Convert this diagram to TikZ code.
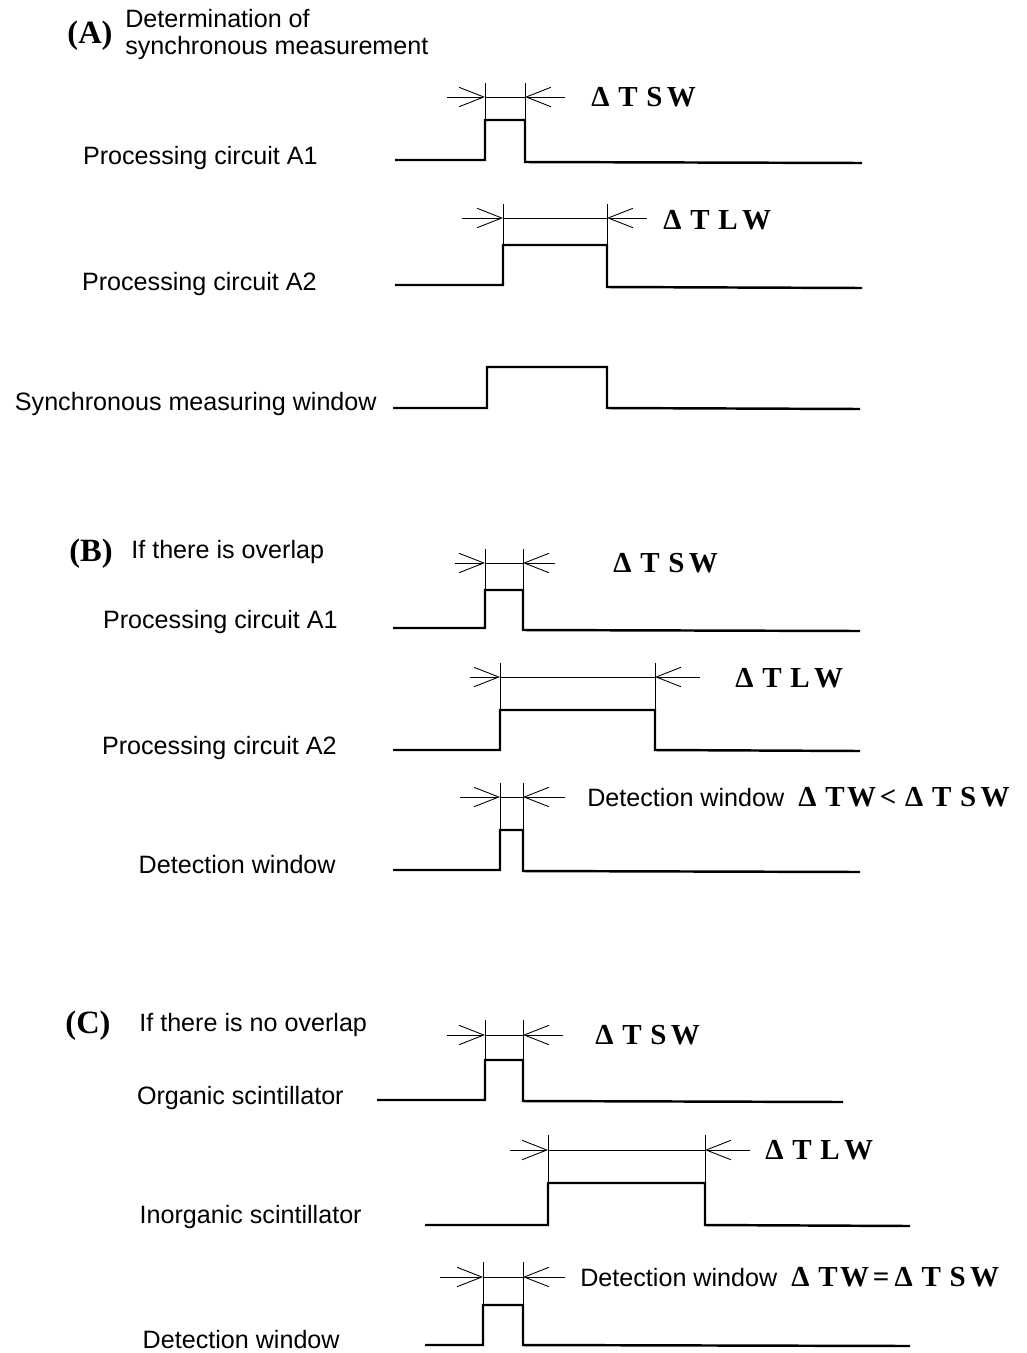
\documentclass[tikz,border=0pt]{standalone}
\usepackage{fontspec}
\setmainfont{Liberation Serif}
\setsansfont{Liberation Sans}
\usetikzlibrary{arrows.meta}
\tikzset{
  sig/.style={line width=1.4pt, line join=miter},
  dimline/.style={line width=0.5pt},
  dimarrow/.style={line width=0.5pt, -{Straight Barb[length=14pt,width=11pt]}},
  lbl/.style={font=\sffamily\fontsize{14.3}{15.3}\selectfont, inner sep=0pt},
  dlbl/.style={font=\bfseries\fontsize{16.5}{19}\selectfont, inner sep=0pt},
  tag/.style={font=\bfseries\fontsize{18.5}{21}\selectfont, inner sep=0pt},
}
\newcommand{\dTSW}{Δ\hspace{5pt}T\hspace{5pt}S\hspace{2.5pt}W}
\newcommand{\dTLW}{Δ\hspace{5pt}T\hspace{5pt}L\hspace{2.5pt}W}
\newcommand{\dTW}{Δ\hspace{5pt}T\hspace{1.5pt}W}
\begin{document}
\begin{tikzpicture}[x=0.02cm, y=-0.02cm]
  \useasboundingbox (0,0) rectangle (1027,1353);

  % (A) Determination of synchronous measurement
  \node[tag, anchor=center] (tagA) at (90,36) {(A)};
  \node[lbl, anchor=north west, align=left] (titleA) at (125,9) {Determination of\\synchronous measurement};

  % A: processing circuit A1
  \node[lbl, anchor=east] (a1lbl) at (318,158) {Processing circuit A1};
  \draw[sig] (395,160) -- (485,160) -- (485,120) -- (525,120) -- (525,162) -- (862,163);
  \draw[dimline] (485,83) -- (485,120) (525,83) -- (525,120) (485,97) -- (525,97);
  \draw[dimarrow] (447,97) -- (485,97);
  \draw[dimarrow] (565,97) -- (525,97);
  \node[dlbl, anchor=west] (a1dt) at (591,97) {\dTSW};

  % A: processing circuit A2
  \node[lbl, anchor=east] (a2lbl) at (317,284) {Processing circuit A2};
  \draw[sig] (395,285) -- (503,285) -- (503,245) -- (607,245) -- (607,287) -- (862,288);
  \draw[dimline] (503,204) -- (503,245) (607,204) -- (607,245) (503,218) -- (607,218);
  \draw[dimarrow] (462,218) -- (503,218);
  \draw[dimarrow] (647,218) -- (607,218);
  \node[dlbl, anchor=west] (a2dt) at (663,220) {\dTLW};

  % A: synchronous measuring window
  \node[lbl, anchor=east] (swlbl) at (377,404) {Synchronous measuring window};
  \draw[sig] (393,408) -- (487,408) -- (487,367) -- (607,367) -- (607,408) -- (860,409);

  % (B) If there is overlap
  \node[tag, anchor=center] (tagB) at (91,554) {(B)};
  \node[lbl, anchor=west] (titleB) at (131,552) {If there is overlap};

  % B: processing circuit A1
  \node[lbl, anchor=east] (b1lbl) at (338,622) {Processing circuit A1};
  \draw[sig] (393,628) -- (485,628) -- (485,590) -- (523,590) -- (523,630) -- (860,631);
  \draw[dimline] (485,549) -- (485,590) (523,549) -- (523,590) (485,563) -- (523,563);
  \draw[dimarrow] (455,563) -- (485,563);
  \draw[dimarrow] (555,563) -- (523,563);
  \node[dlbl, anchor=west] (b1dt) at (613,563) {\dTSW};

  % B: processing circuit A2
  \node[lbl, anchor=east] (b2lbl) at (337,748) {Processing circuit A2};
  \draw[sig] (393,750) -- (500,750) -- (500,710) -- (655,710) -- (655,750) -- (860,751);
  \draw[dimline] (500,663) -- (500,710) (655,663) -- (655,710) (500,677) -- (655,677);
  \draw[dimarrow] (470,677) -- (500,677);
  \draw[dimarrow] (700,677) -- (655,677);
  \node[dlbl, anchor=west] (b2dt) at (735,678) {\dTLW};

  % B: detection window
  \node[lbl, anchor=east] (b3lbl) at (336,865) {Detection window};
  \draw[sig] (393,870) -- (500,870) -- (500,830) -- (523,830) -- (523,871) -- (860,872);
  \draw[dimline] (500,783) -- (500,830) (523,783) -- (523,830) (500,797) -- (523,797);
  \draw[dimarrow] (460,797) -- (500,797);
  \draw[dimarrow] (565,797) -- (523,797);
  \node[anchor=west, inner sep=0pt] (b3dt) at (587,797) {\sffamily\fontsize{14.3}{15.3}\selectfont Detection window\hspace{8pt}{\rmfamily\bfseries\fontsize{16.5}{19}\selectfont\dTW\hspace{2pt}<\hspace{5pt}\dTSW}};

  % (C) If there is no overlap
  \node[tag, anchor=center] (tagC) at (88,1026) {(C)};
  \node[lbl, anchor=west] (titleC) at (139,1025) {If there is no overlap};

  % C: organic scintillator
  \node[lbl, anchor=east] (c1lbl) at (344,1098) {Organic scintillator};
  \draw[sig] (377,1100) -- (485,1100) -- (485,1060) -- (523,1060) -- (523,1101) -- (843,1102);
  \draw[dimline] (485,1020) -- (485,1060) (523,1020) -- (523,1060) (485,1035) -- (523,1035);
  \draw[dimarrow] (447,1035) -- (485,1035);
  \draw[dimarrow] (563,1035) -- (523,1035);
  \node[dlbl, anchor=west] (c1dt) at (595,1035) {\dTSW};

  % C: inorganic scintillator
  \node[lbl, anchor=east] (c2lbl) at (362,1217) {Inorganic scintillator};
  \draw[sig] (425,1225) -- (548,1225) -- (548,1183) -- (705,1183) -- (705,1225) -- (910,1226);
  \draw[dimline] (548,1135) -- (548,1183) (705,1135) -- (705,1183) (548,1150) -- (705,1150);
  \draw[dimarrow] (510,1150) -- (548,1150);
  \draw[dimarrow] (750,1150) -- (705,1150);
  \node[dlbl, anchor=west] (c2dt) at (765,1150) {\dTLW};

  % C: detection window
  \node[lbl, anchor=east] (c3lbl) at (340,1340) {Detection window};
  \draw[sig] (425,1345) -- (483,1345) -- (483,1305) -- (523,1305) -- (523,1345) -- (910,1346);
  \draw[dimline] (483,1262) -- (483,1305) (523,1262) -- (523,1305) (483,1277) -- (523,1277);
  \draw[dimarrow] (440,1277) -- (483,1277);
  \draw[dimarrow] (565,1277) -- (523,1277);
  \node[anchor=west, inner sep=0pt] (c3dt) at (580,1277) {\sffamily\fontsize{14.3}{15.3}\selectfont Detection window\hspace{8pt}{\rmfamily\bfseries\fontsize{16.5}{19}\selectfont\dTW\hspace{2pt}=\hspace{3pt}\dTSW}};
\end{tikzpicture}
\end{document}
